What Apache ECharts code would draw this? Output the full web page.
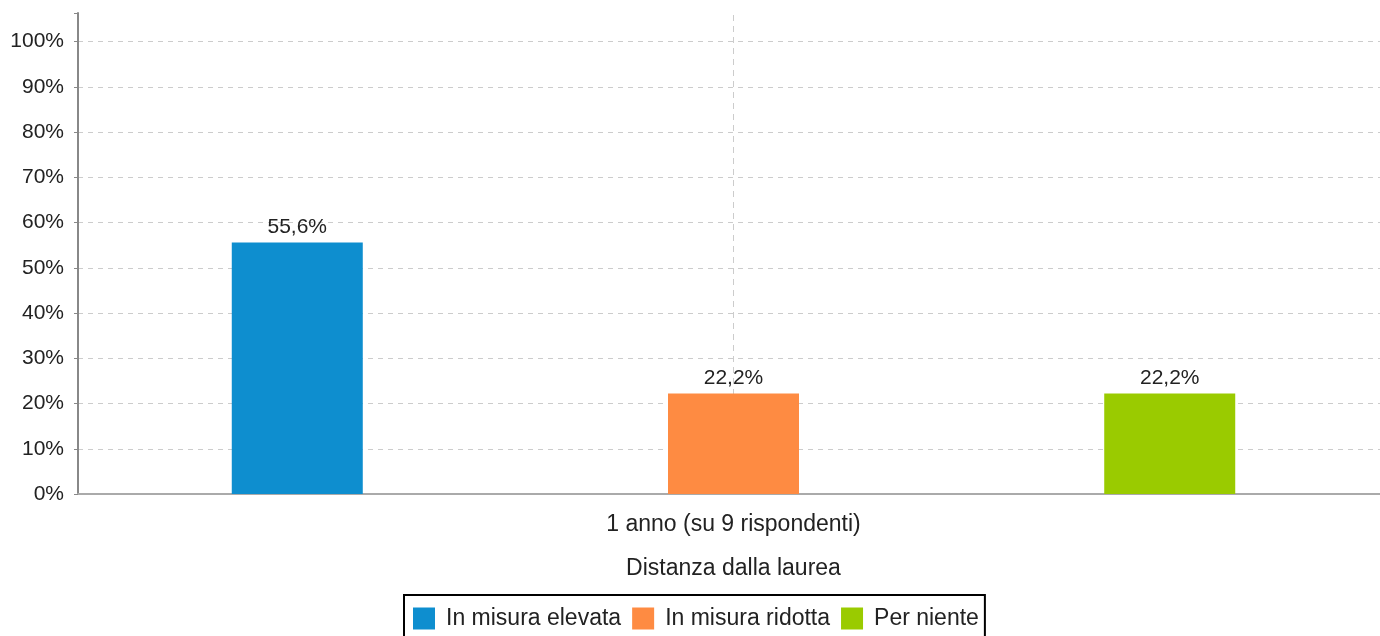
<!DOCTYPE html>
<html>
<head>
<meta charset="utf-8">
<script src="https://cdn.jsdelivr.net/npm/echarts@6/dist/echarts.min.js"></script>
<style>
  html, body { margin: 0; padding: 0; background: #fff; }
  #chart { width: 1380px; height: 636px; }
</style>
</head>
<body>
<div id="chart"></div>
<script>
var categories = ['1 anno (su 9 rispondenti)'];
var seriesNames = ['In misura elevata', 'In misura ridotta', 'Per niente'];
var elevata = [55.6];
var ridotta = [22.2];
var perNiente = [22.2];
var yTicks = [0, 10, 20, 30, 40, 50, 60, 70, 80, 90, 100];
var colors = ['#0e8ecf', '#fe8b42', '#9acb00'];

var font = 'Liberation Sans, Arial, sans-serif';
var myChart = echarts.init(document.getElementById('chart'));

// split line colours: the extra top tick (axis max) stays invisible
var splitColors = [];
for (var i = 0; i < yTicks.length; i++) splitColors.push('#cccccc');
splitColors.push('rgba(0,0,0,0)');

function barSeries(name, data, color, withLine) {
  var s = {
    name: name,
    type: 'bar',
    data: data,
    barWidth: 131,
    barGap: '233%',
    z: 3,
    itemStyle: { color: color },
    label: {
      show: true,
      position: 'top',
      distance: 5,
      color: '#222',
      fontSize: 21,
      fontFamily: font,
      formatter: function (p) { return p.value.toFixed(1).replace('.', ',') + '%'; }
    }
  };
  if (withLine) {
    s.markLine = {
      silent: true,
      z: 1,
      symbol: 'none',
      label: { show: false },
      lineStyle: { color: '#cccccc', type: [6, 5], width: 1 },
      data: [{ xAxis: categories[0] }]
    };
  }
  return s;
}

var option = {
  animation: false,
  grid: { left: 78, width: 1311, top: 13, bottom: 142, containLabel: false, outerBoundsMode: 'none' },
  legend: {
    data: seriesNames,
    top: 595,
    left: 404,
    itemWidth: 22,
    itemHeight: 22,
    itemGap: 11,
    padding: [12, 6, 10, 9],
    borderColor: '#000',
    borderWidth: 2,
    icon: 'rect',
    textStyle: { fontSize: 23, color: '#222', fontFamily: font, padding: [0, 0, 0, 6] }
  },
  xAxis: {
    type: 'category',
    data: categories,
    name: 'Distanza dalla laurea',
    nameLocation: 'middle',
    nameGap: 63,
    nameTextStyle: { fontSize: 23, color: '#222', fontFamily: font },
    axisLine: { lineStyle: { color: '#aaaaaa', width: 2 } },
    axisTick: { alignWithLabel: true, length: 5, lineStyle: { color: '#888' } },
    axisLabel: { fontSize: 23, color: '#222', fontFamily: font, margin: 19 },
    splitLine: { show: false }
  },
  yAxis: {
    type: 'value',
    min: 0,
    max: 106.3,
    interval: 10,
    axisLine: { show: true, lineStyle: { color: '#888888', width: 2 } },
    axisTick: { show: true, length: 4, lineStyle: { color: '#888' } },
    axisLabel: {
      fontSize: 21,
      color: '#222',
      fontFamily: font,
      margin: 14,
      formatter: function (v) { return yTicks.indexOf(v) >= 0 ? v + '%' : ''; }
    },
    splitLine: { show: true, lineStyle: { color: splitColors, type: [5, 5], width: 1 } }
  },
  series: [
    barSeries(seriesNames[0], elevata, colors[0], false),
    barSeries(seriesNames[1], ridotta, colors[1], true),
    barSeries(seriesNames[2], perNiente, colors[2], false)
  ]
};
myChart.setOption(option);
</script>
</body>
</html>
